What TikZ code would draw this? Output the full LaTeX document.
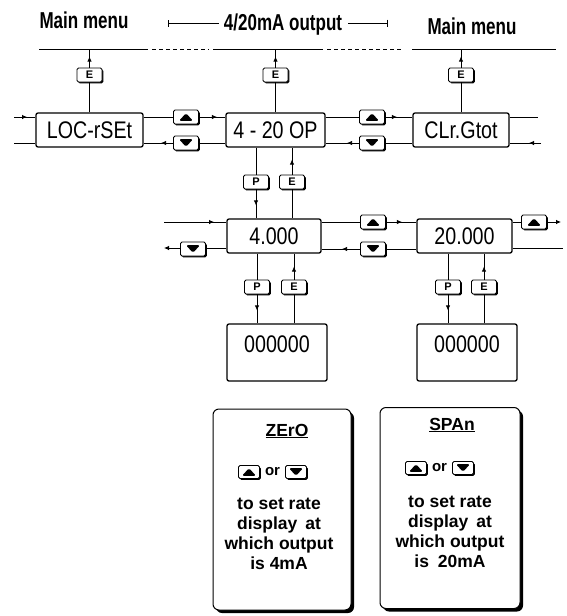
\documentclass[tikz,border=0pt]{standalone}
\usepackage{fontspec}
\setmainfont{Liberation Sans}
\newfontfamily\headfont[FakeStretch=0.74]{Liberation Sans}
\newfontfamily\dispfont[FakeStretch=0.82]{Liberation Sans}
\usepackage{tikz}
\usetikzlibrary{positioning, arrows.meta, shadows, decorations.markings}

\begin{document}
\begin{tikzpicture}[
    x=1pt, y=-1pt, line width=0.8pt,
    heading/.style={font=\headfont\bfseries\fontsize{23}{26}\selectfont, inner sep=0pt, anchor=base},
    dispbox/.style={draw, line width=1.3pt, rounded corners=2pt, inner sep=0pt, minimum height=34pt, font=\dispfont\fontsize{24}{24}\selectfont},
    btn/.style={draw, line width=0.9pt, rounded corners=1.5pt, fill=white, minimum width=25pt, minimum height=14pt, inner sep=0pt,
        font=\bfseries\fontsize{11}{11}\selectfont, drop shadow={shadow xshift=1.3pt, shadow yshift=-1.3pt, fill=black, opacity=1}},
    upbtn/.style={btn, path picture={\fill[black] ([xshift=-7pt,yshift=-3.8pt]path picture bounding box.center) -- ++(14pt,0pt) -- ++(-7pt,7.6pt) -- cycle;}},
    dnbtn/.style={btn, path picture={\fill[black] ([xshift=-7pt,yshift=3.8pt]path picture bounding box.center) -- ++(14pt,0pt) -- ++(-7pt,-7.6pt) -- cycle;}},
    smallbtn/.style={minimum width=21pt, minimum height=13pt},
    infobox/.style={draw, line width=1pt, rounded corners=6pt, fill=white, drop shadow={shadow xshift=3pt, shadow yshift=-3pt, fill=black, opacity=1}},
    infotext/.style={font=\bfseries\fontsize{17.5}{20}\selectfont, align=center, inner sep=0pt, anchor=base},
    arr/.style={-{Latex[length=5pt,width=4.5pt]}},
    midarr/.style={decoration={markings, mark=at position #1 with {\arrow{Latex[length=5pt,width=4.5pt]}}}, postaction={decorate}},
    midarr/.default=12pt,
]
\useasboundingbox (0,0) rectangle (566,616);

% headings
\node[heading] (mainL) at (84,28) {Main menu};
\node[heading] (outlbl) at (283,30) {4/20mA output};
\node[heading] (mainR) at (472,34) {Main menu};
\coordinate (brL) at (168,23);
\coordinate (brR) at (388,23);
\draw[{Bar[width=7pt]}-, shorten >=5pt] (brL) -- (outlbl.west |- brL);
\draw[{Bar[width=7pt]}-, shorten >=5pt] (brR) -- (outlbl.east |- brR);

% exit line to main menu
\coordinate (topline) at (0,49);
\draw (39,49) -- (148,49);
\draw[dash pattern=on 4pt off 3pt] (152,49) -- (209,49);
\draw (213,49) -- (323,49);
\draw[dash pattern=on 4pt off 3pt] (327,49) -- (401,49);
\draw (412,49) -- (556,49);

% menu row
\node[dispbox, minimum width=107pt] (loc) at (89.5,130) {LOC-rSEt};
\node[dispbox, minimum width=99pt] (op) at (275.5,130) {4 - 20 OP};
\node[dispbox, minimum width=96pt] (clr) at (461,130) {CLr.Gtot};

\node[btn] (eLoc) at (loc |- 0,75) {E};
\node[btn] (eOp) at (op |- 0,75) {E};
\node[btn] (eClr) at (clr |- 0,75) {E};
\foreach \n in {Loc,Op,Clr} {
  \draw[midarr=11pt] (e\n) -- (e\n |- topline);
}
\draw (loc) -- (eLoc);
\draw (op) -- (eOp);
\draw (clr) -- (eClr);

\node[upbtn] (up1) at (186,117) {};
\node[dnbtn] (dn1) at (186,143) {};
\node[upbtn] (up2) at (372,117) {};
\node[dnbtn] (dn2) at (372,143) {};

\coordinate (inL1) at (14,117);
\coordinate (outL1) at (14,143);
\coordinate (outR1) at (538,117);
\coordinate (inR1) at (541,143);
\draw[midarr=13pt] (inL1) -- (loc.west |- inL1);
\draw (loc.west |- outL1) -- (outL1);
\draw (loc.east |- up1) -- (up1);
\draw[midarr=18pt] (up1) -- (op.west |- up1);
\draw (op.west |- dn1) -- (dn1);
\draw[midarr] (dn1) -- (loc.east |- dn1);
\draw (op.east |- up2) -- (up2);
\draw[midarr] (up2) -- (clr.west |- up2);
\draw (clr.west |- dn2) -- (dn2);
\draw[midarr] (dn2) -- (op.east |- dn2);
\draw (clr.east |- outR1) -- (outR1);
\draw[midarr] (inR1) -- (clr.east |- inR1);

% setting row
\node[dispbox, minimum width=94pt] (v4) at (274,236) {4.000};
\node[dispbox, minimum width=95pt] (v20) at (464.5,236) {20.000};

\node[btn] (pOp) at (256,182) {P};
\node[btn] (eOpB) at (292,182) {E};
\draw (op.south -| pOp) -- (pOp);
\draw[midarr=16pt] (pOp) -- (v4.north -| pOp);
\draw (v4.north -| eOpB) -- (eOpB);
\draw[midarr=15pt] (eOpB) -- (op.south -| eOpB);

\node[dnbtn] (dn3) at (193,249) {};
\node[upbtn] (up3) at (373,222) {};
\node[dnbtn] (dn4) at (373,249) {};
\node[upbtn] (up4) at (534,222) {};

\coordinate (inL2) at (164,222);
\coordinate (outL2) at (164,248);
\coordinate (outR2) at (561,222);
\coordinate (endR2) at (563,248);
\draw[midarr=50pt] (inL2) -- (v4.west |- inL2);
\draw (v4.west |- outL2) -- (dn3.east |- outL2);
\draw[arr] (dn3.west |- outL2) -- (outL2);
\draw (v4.east |- up3) -- (up3);
\draw[midarr=16pt] (up3) -- (v20.west |- up3);
\draw (v20.west |- dn4) -- (dn4);
\draw[midarr=18pt] (dn4) -- (v4.east |- dn4);
\draw (v20.east |- up4) -- (up4);
\draw[arr] (up4) -- (outR2);
\draw (v20.east |- endR2) -- (endR2);

% value rows
\node[dispbox, minimum width=100pt, inner ysep=3pt, text height=25pt, text depth=26pt] (z1) at (277,352.5) {000000};
\node[dispbox, minimum width=100pt, inner ysep=3pt, text height=25pt, text depth=26pt] (z2) at (467,352.5) {000000};

\node[btn] (pV4) at (257,287) {P};
\node[btn] (eV4) at (294,287) {E};
\node[btn] (pV20) at (448,287) {P};
\node[btn] (eV20) at (484,287) {E};
\draw (v4.south -| pV4) -- (pV4);
\draw[midarr=16pt] (pV4) -- (z1.north -| pV4);
\draw (z1.north -| eV4) -- (eV4);
\draw[midarr=13pt] (eV4) -- (v4.south -| eV4);
\draw (v20.south -| pV20) -- (pV20);
\draw[midarr=16pt] (pV20) -- (z2.north -| pV20);
\draw (z2.north -| eV20) -- (eV20);
\draw[midarr=13pt] (eV20) -- (v20.south -| eV20);

% notes
\node[infobox, minimum width=138pt, minimum height=201pt] (zeroNote) at (282,509.5) {};
\node[infobox, minimum width=140pt, minimum height=201pt] (spanNote) at (450,508) {};

\node[infotext] (zeroTitle) at (287,436) {\underline{ZErO}};
\node[upbtn, smallbtn] (zeroUp) at (249,472) {};
\node[infotext, anchor=center, font=\bfseries\fontsize{15}{15}\selectfont] (zeroOr) at (272.5,472) {or};
\node[dnbtn, smallbtn] (zeroDn) at (296,472) {};
\node[infotext] (zeroText) at (279,569) {to set rate\\display\hspace{3pt} at\\which output\\is 4mA};

\node[infotext] (spanTitle) at (452,430) {\underline{SPAn}};
\node[upbtn, smallbtn] (spanUp) at (416,468) {};
\node[infotext, anchor=center, font=\bfseries\fontsize{15}{15}\selectfont] (spanOr) at (439.5,468) {or};
\node[dnbtn, smallbtn] (spanDn) at (463,468) {};
\node[infotext] (spanText) at (450,567) {to set rate\\display\hspace{3pt} at\\which output\\is\hspace{4pt} 20mA};
\end{tikzpicture}
\end{document}
